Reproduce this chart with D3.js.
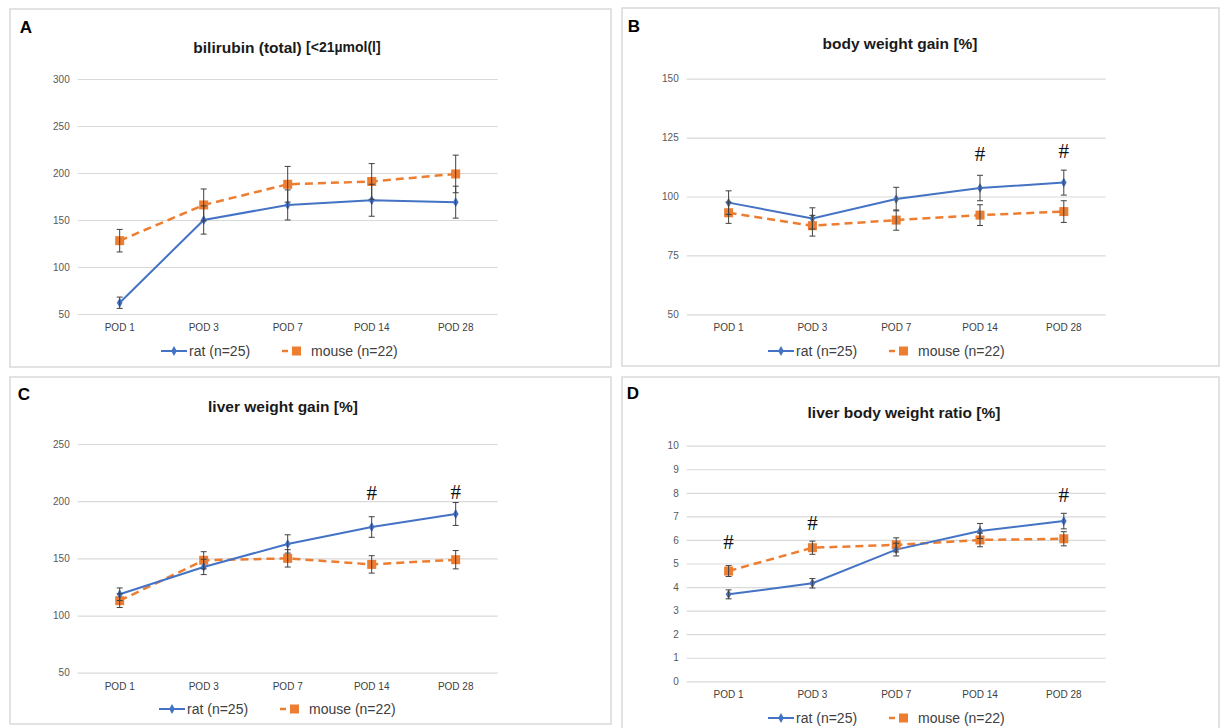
<!DOCTYPE html>
<html>
<head>
<meta charset="utf-8">
<script src="https://cdn.jsdelivr.net/npm/d3@7"></script>
<style>
  body { margin: 0; background: #fff; }
  svg { font-family: "Liberation Sans", Arial, sans-serif; }
</style>
</head>
<body>
<script>
// categories (x axis)
var categories = ["POD 1", "POD 3", "POD 7", "POD 14", "POD 28"];

// A - bilirubin
var bilirubinTicks = [50, 100, 150, 200, 250, 300];
var bilirubinRat = [62, 150, 166, 171, 169];
var bilirubinRatErr = [6, 15, 16, 17, 17];
var bilirubinMouse = [128, 166, 188, 191, 199];
var bilirubinMouseErr = [12, 17, 19, 19, 20];
var bilirubinHash = [null, null, null, null, null];

// B - body weight gain
var bodyTicks = [50, 75, 100, 125, 150];
var bodyRat = [97.4, 90.7, 98.9, 103.6, 105.9];
var bodyRatErr = [5, 4.5, 5, 5.4, 5.3];
var bodyMouse = [93.1, 87.6, 90.0, 92.1, 93.6];
var bodyMouseErr = [4.5, 4.4, 4.3, 4.4, 4.6];
var bodyHash = [null, null, null, 118, 119.4];

// C - liver weight gain
var liverTicks = [50, 100, 150, 200, 250];
var liverRat = [118.6, 142.5, 162.6, 177.4, 188.8];
var liverRatErr = [5.5, 6.7, 8, 9, 10];
var liverMouse = [113, 148.3, 150, 144.7, 148.8];
var liverMouseErr = [6, 7.5, 7.6, 7.6, 8];
var liverHash = [null, null, null, 207, 208.4];

// D - liver body weight ratio
var ratioTicks = [0, 1, 2, 3, 4, 5, 6, 7, 8, 9, 10];
var ratioRat = [3.69, 4.16, 5.59, 6.38, 6.80];
var ratioRatErr = [0.19, 0.2, 0.27, 0.32, 0.33];
var ratioMouse = [4.68, 5.67, 5.79, 6.00, 6.05];
var ratioMouseErr = [0.23, 0.28, 0.3, 0.29, 0.3];
var ratioHash = [5.9, 6.72, null, null, 7.9];

var legendNames = ["rat (n=25)", "mouse (n=22)"];

var ratColor = "#4472C4",
    mouseColor = "#ED7D31";

var svg = d3.select("body").append("svg")
    .attr("width", 1221)
    .attr("height", 728);

// panel layouts
var panels = [
  {letter: "A", title: "bilirubin (total) ", sub: "[<21µmol(l]", box: [10, 9, 601, 358],
   x: [77.7, 497.7], y: [314, 79], titleX: 287, titleY: 47, letterX: 26, letterY: 27, legendY: 351, legendX: 161,
   ticks: bilirubinTicks, rat: bilirubinRat, ratErr: bilirubinRatErr, mouse: bilirubinMouse, mouseErr: bilirubinMouseErr, hash: bilirubinHash},
  {letter: "B", title: "body weight gain [%]", box: [622, 8, 597, 358],
   x: [686.7, 1105.7], y: [314.3, 78.7], titleX: 900, titleY: 43, letterX: 634, letterY: 26, legendY: 351, legendX: 768,
   ticks: bodyTicks, rat: bodyRat, ratErr: bodyRatErr, mouse: bodyMouse, mouseErr: bodyMouseErr, hash: bodyHash},
  {letter: "C", title: "liver weight gain [%]", box: [10, 377, 601, 347],
   x: [77.7, 497.7], y: [672.7, 444], titleX: 283, titleY: 406, letterX: 24, letterY: 394, legendY: 709, legendX: 159,
   ticks: liverTicks, rat: liverRat, ratErr: liverRatErr, mouse: liverMouse, mouseErr: liverMouseErr, hash: liverHash},
  {letter: "D", title: "liver body weight ratio [%]", box: [622, 377, 597, 360],
   x: [686.7, 1105.7], y: [681.3, 445.7], titleX: 904, titleY: 412, letterX: 633, letterY: 393, legendY: 718, legendX: 768,
   ticks: ratioTicks, rat: ratioRat, ratErr: ratioRatErr, mouse: ratioMouse, mouseErr: ratioMouseErr, hash: ratioHash}
];

panels.forEach(drawPanel);

function drawPanel(p){
    var g = svg.append("g");

    // frame
    g.append("rect")
        .attr("x", p.box[0]).attr("y", p.box[1])
        .attr("width", p.box[2]).attr("height", p.box[3])
        .attr("fill", "#fff")
        .attr("stroke", "#d9d9d9")
        .attr("stroke-width", 1.5);

    // panel letter
    g.append("text")
        .attr("x", p.letterX).attr("y", p.letterY)
        .attr("text-anchor", "middle")
        .attr("dominant-baseline", "central")
        .attr("font-size", 17)
        .attr("font-weight", "bold")
        .attr("fill", "#000")
        .text(p.letter);

    // title
    var t = g.append("text")
        .attr("x", p.titleX).attr("y", p.titleY)
        .attr("text-anchor", "middle")
        .attr("dominant-baseline", "central")
        .attr("font-size", 15.5)
        .attr("font-weight", "bold")
        .attr("fill", "#1a1a1a")
        .text(p.title);
    if (p.sub){
        t.append("tspan").attr("font-size", 14).text(p.sub);
    }

    var x = d3.scaleBand()
        .domain(categories)
        .range(p.x);
    var y = d3.scaleLinear()
        .domain(d3.extent(p.ticks))
        .range(p.y);
    var cx = function(i){ return x(categories[i]) + x.bandwidth() / 2; };

    // gridlines + y labels
    var yAxis = d3.axisLeft(y)
        .tickValues(p.ticks)
        .tickSize(-(p.x[1] - p.x[0]))
        .tickPadding(8);
    var ya = g.append("g")
        .attr("transform", "translate(" + p.x[0] + ",0)")
        .call(yAxis);
    ya.select(".domain").remove();
    ya.selectAll(".tick line").attr("stroke", "#d9d9d9").attr("stroke-width", 1.2);
    ya.selectAll(".tick text")
        .attr("font-size", 10)
        .attr("fill", "#595959")
        .attr("font-family", "Liberation Sans, Arial, sans-serif");

    // x labels
    var xAxis = d3.axisBottom(x).tickSize(0).tickPadding(10);
    var xa = g.append("g")
        .attr("transform", "translate(0," + p.y[0] + ")")
        .call(xAxis);
    xa.select(".domain").remove();
    xa.selectAll(".tick text")
        .attr("font-size", 10)
        .attr("fill", "#404040")
        .attr("font-family", "Liberation Sans, Arial, sans-serif");

    // lines
    var line = d3.line()
        .x(function(d, i){ return cx(i); })
        .y(function(d){ return y(d); });

    g.append("path")
        .datum(p.mouse)
        .attr("d", line)
        .attr("fill", "none")
        .attr("stroke", mouseColor)
        .attr("stroke-width", 2.5)
        .attr("stroke-dasharray", "8,5");

    g.append("path")
        .datum(p.rat)
        .attr("d", line)
        .attr("fill", "none")
        .attr("stroke", ratColor)
        .attr("stroke-width", 2);

    // markers
    g.selectAll(".mouseMark")
        .data(p.mouse)
        .enter()
        .append("rect")
        .attr("class", "mouseMark")
        .attr("x", function(d, i){ return cx(i) - 4.5; })
        .attr("y", function(d){ return y(d) - 4.5; })
        .attr("width", 9).attr("height", 9)
        .attr("fill", mouseColor);

    var diamond = d3.symbol().type(d3.symbolDiamond).size(28);
    g.selectAll(".ratMark")
        .data(p.rat)
        .enter()
        .append("path")
        .attr("class", "ratMark")
        .attr("d", diamond)
        .attr("transform", function(d, i){ return "translate(" + cx(i) + "," + y(d) + ")"; })
        .attr("fill", ratColor);

    // error bars
    drawErr(g, p.mouse, p.mouseErr, cx, y);
    drawErr(g, p.rat, p.ratErr, cx, y);

    // significance marks
    g.selectAll(".hash")
        .data(p.hash)
        .enter()
        .filter(function(d){ return d != null; })
        .append("text")
        .attr("x", function(d){ return cx(p.hash.indexOf(d)); })
        .attr("y", function(d){ return y(d); })
        .attr("text-anchor", "middle")
        .attr("dominant-baseline", "central")
        .attr("font-family", "Liberation Serif, Times New Roman, serif")
        .attr("font-size", 21)
        .attr("fill", "#111")
        .text("#");

    // legend
    var ly = p.legendY, lx = p.legendX;
    g.append("line")
        .attr("x1", lx).attr("x2", lx + 26)
        .attr("y1", ly).attr("y2", ly)
        .attr("stroke", ratColor).attr("stroke-width", 2);
    g.append("path")
        .attr("d", diamond)
        .attr("transform", "translate(" + (lx + 13) + "," + ly + ")")
        .attr("fill", ratColor);
    g.append("text")
        .attr("x", lx + 28).attr("y", ly)
        .attr("dominant-baseline", "central")
        .attr("font-size", 14)
        .attr("fill", "#404040")
        .text(legendNames[0]);

    var mx = lx + 121;
    g.append("line")
        .attr("x1", mx).attr("x2", mx + 20)
        .attr("y1", ly).attr("y2", ly)
        .attr("stroke", mouseColor).attr("stroke-width", 2.5)
        .attr("stroke-dasharray", "6,4");
    g.append("rect")
        .attr("x", mx + 10).attr("y", ly - 4.5)
        .attr("width", 9).attr("height", 9)
        .attr("fill", mouseColor);
    g.append("text")
        .attr("x", mx + 29).attr("y", ly)
        .attr("dominant-baseline", "central")
        .attr("font-size", 14)
        .attr("fill", "#404040")
        .text(legendNames[1]);
}

function drawErr(g, vals, errs, cx, y){
    var e = g.append("g")
        .attr("stroke", "#404040")
        .attr("stroke-width", 1);
    vals.forEach(function(v, i){
        var x0 = cx(i), top = y(v + errs[i]), bot = y(v - errs[i]);
        e.append("line").attr("x1", x0).attr("x2", x0).attr("y1", top).attr("y2", bot);
        e.append("line").attr("x1", x0 - 3).attr("x2", x0 + 3).attr("y1", top).attr("y2", top);
        e.append("line").attr("x1", x0 - 3).attr("x2", x0 + 3).attr("y1", bot).attr("y2", bot);
    });
}
</script>
</body>
</html>
